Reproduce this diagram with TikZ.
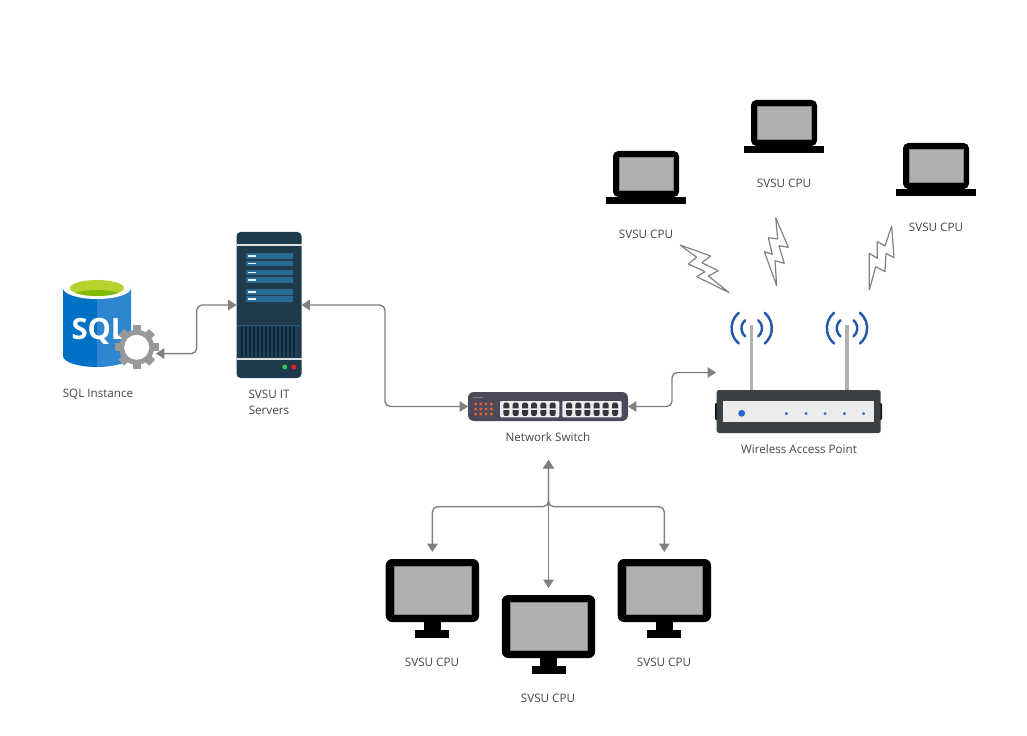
\documentclass[tikz,border=0pt]{standalone}
\usepackage{fontspec}
\setmainfont{Open Sans}
\usetikzlibrary{arrows.meta}

\def\pxu{0.03cm}
\definecolor{linkgray}{HTML}{808080}
\definecolor{captext}{HTML}{444444}
\definecolor{screengray}{HTML}{B0B0B0}
\definecolor{sqlleft}{HTML}{0072C6}
\definecolor{sqlright}{HTML}{2E86D0}
\definecolor{sqlrim}{HTML}{B5D22E}
\definecolor{sqlinner}{HTML}{7FBA00}
\definecolor{servbody}{HTML}{1F3A4B}
\definecolor{servbar}{HTML}{256B94}
\definecolor{servvent}{HTML}{0F2433}
\definecolor{switchbody}{HTML}{4A4A5A}
\definecolor{switchled}{HTML}{F0602A}
\definecolor{apbody}{HTML}{3A4044}
\definecolor{apblue}{HTML}{2468D0}
\definecolor{apwave}{HTML}{2458A8}

\tikzstyle{myarrow}=[{Triangle[length=7.2pt,width=9pt]}-{Triangle[length=7.2pt,width=9pt]}, draw=linkgray, fill=none, line width=1.2pt, rounded corners=4.5pt]
\tikzstyle{caption}=[text=captext, font=\fontsize{9.95pt}{13.6pt}\selectfont, align=center, inner sep=0pt]
\tikzstyle{iconbox}=[rectangle, inner sep=0pt, outer sep=0pt]
\tikzstyle{bolt}=[draw=linkgray, fill=white, line width=1pt, line join=bevel]
\tikzstyle{screen}=[fill=screengray, draw=linkgray, line width=0.4pt]

\tikzset{
  laptop/.pic={
    \fill[black, rounded corners=4.5pt] (-33,0) rectangle (33,46);
    \path[screen] (-26.5,6) rectangle (27,39.7);
    \fill[black] (-40,46) rectangle (40,53);
  },
  monitor/.pic={
    \fill[black, rounded corners=5.5pt] (-46.7,0) rectangle (46.7,63);
    \path[screen] (-38.4,7.7) rectangle (38.4,55);
    \fill[black] (-8.3,62) rectangle (8.3,72);
    \fill[black] (-17,71) rectangle (17,79);
  },
  antenna/.pic={
    \draw[screengray, line width=2.8pt] (0,-3) -- (0,62);
    \draw[apwave, line width=2.1pt, line cap=round]
      (-13,-15.5) arc[start angle=230, end angle=130, radius=20];
    \draw[apwave, line width=2.1pt, line cap=round]
      (13,-15.5) arc[start angle=-50, end angle=50, radius=20];
    \draw[apwave, line width=2.1pt, line cap=round]
      (-6.5,-8) arc[start angle=230, end angle=130, radius=10.5];
    \draw[apwave, line width=2.1pt, line cap=round]
      (6.5,-8) arc[start angle=-50, end angle=50, radius=10.5];
  }
}

\begin{document}
\begin{tikzpicture}[x=\pxu, y=-\pxu]
\useasboundingbox (0,0) rectangle (1027,736);

% sql instance
\fill[sqlleft] (63,288) -- (63,356) .. controls (63,362) and (78,367) .. (97,367) -- (97,288) -- cycle;
\fill[sqlright] (131,288) -- (131,356) .. controls (131,362) and (116,367) .. (97,367) -- (97,288) -- cycle;
\fill[white] (97,288) ellipse [x radius=34, y radius=11];
\begin{scope}
  \clip (97,288) ellipse [x radius=27, y radius=8];
  \fill[sqlrim] (70,278) rectangle (124,298);
  \fill[sqlinner] (97,298) ellipse [x radius=27, y radius=8];
\end{scope}
\node[iconbox, text=white, font=\fontsize{25pt}{25pt}\selectfont\bfseries] (sqltext) at (99.5,331) {SQL};
\node[circle, inner sep=0pt, minimum size=40*\pxu] (gear) at (136.7,347.3) {};
\foreach \a in {0,45,...,315}
  \fill[gray!80, rotate around={\a:(136.7,347.3)}] (132.5,325.5) rectangle (140.9,335);
\fill[gray!80] (136.7,347.3) circle (17.5);
\fill[white] (136.7,347.3) circle (12.5);

% server
\node[iconbox, fill=servbody, rounded corners=3.5pt, minimum width=65*\pxu, minimum height=146*\pxu] (server) at (269,305) {};
\fill[white!85!servbody] (236.5,244) rectangle (301.5,245.6);
\foreach \y in {253.3,260.7,269.7,277,289,296} {
  \fill[servbar] (246,\y) rectangle (292.7,\y+5.8);
  \fill[white!90!servbar] (247.5,\y+2.2) rectangle (256,\y+3.6);
}
\fill[servbar!70!servbody] (236.5,324.6) rectangle (301.5,325.6);
\fill[servvent] (241,327) rectangle (296,357);
\foreach \x in {243,247,...,295}
  \fill[servbody!75!servbar] (\x,327) rectangle (\x+1.6,357);
\fill[white!85!servbody] (236.5,358.4) rectangle (301.5,360);
\fill[green!50!teal!85!white] (284.7,367) circle (2.5);
\fill[red!70!purple!90!white] (293.7,367) circle (2.5);

% switch
\node[iconbox, fill=switchbody, rounded corners=5pt, minimum width=160*\pxu, minimum height=29*\pxu] (switch) at (548,406.5) {};
\fill[linkgray] (473,397) rectangle (483,397.8);
\foreach \x in {475.7,480.7,486,491.3}
  \foreach \y in {404,409,414}
    \fill[switchled] (\x,\y) circle (1.7);
\fill[gray!15, rounded corners=1pt] (500,401) rectangle (559.3,417.3);
\fill[gray!15, rounded corners=1pt] (562.3,401) rectangle (621.7,417.3);
\foreach \x in {506.3,515.7,525,534,543.3,552.7,569,578.3,587.3,596.7,605.7,615} {
  \fill[switchbody!70!black] (\x-1.7,402.6) -- (\x+1.7,402.6) -- (\x+3,404.6) -- (\x+3,408.4) -- (\x-3,408.4) -- (\x-3,404.6) -- cycle;
  \fill[switchbody!70!black] (\x-1.7,415.8) -- (\x+1.7,415.8) -- (\x+3,413.8) -- (\x+3,410) -- (\x-3,410) -- (\x-3,413.8) -- cycle;
}

% access point
\node[iconbox, minimum width=165*\pxu, minimum height=121*\pxu] (wap) at (798.5,372.5) {};
\pic at (751.7,328.3) {antenna};
\pic at (847,328.3) {antenna};
\fill[black!80!apbody, rounded corners=1pt] (715,403) rectangle (882,420);
\fill[apbody, rounded corners=2pt] (716.7,390) rectangle (880.7,433);
\fill[gray!15] (723,400.7) rectangle (874,422.3);
\fill[apblue] (741.7,413.3) circle (3.4);
\foreach \x in {786.3,806,825,844.3,863.7}
  \fill[apblue] (\x,413.6) circle (1.6);

% computers
\pic at (646,151) {laptop};
\pic at (784,100) {laptop};
\pic at (936,143) {laptop};
\node[iconbox, minimum width=93*\pxu, minimum height=79*\pxu] (deskleft) at (432.4,598.5) {};
\node[iconbox, minimum width=93*\pxu, minimum height=79*\pxu] (deskmid) at (548.5,634.5) {};
\node[iconbox, minimum width=93*\pxu, minimum height=79*\pxu] (deskright) at (664.3,598.5) {};
\pic at (deskleft.north) {monitor};
\pic at (deskmid.north) {monitor};
\pic at (deskright.north) {monitor};

% wireless bolts
\path[bolt] (680,245) -- (710.7,256) -- (701.7,262.7) -- (718.3,270.7) -- (708.3,276) -- (729.3,292.7) -- (696.7,276.7) -- (705,271.7) -- (688.3,264) -- (696.7,257.3) -- cycle;
\path[bolt] (775.7,217.7) -- (788.3,247.3) -- (779,245.7) -- (784.3,263.3) -- (775,260.7) -- (776.7,285.7) -- (764.3,251.7) -- (772.3,254.3) -- (768.3,237.7) -- (777.7,239) -- cycle;
\path[bolt] (891.7,226) -- (894,257.7) -- (886,253.3) -- (885,271.7) -- (875.7,266.7) -- (869.3,290) -- (869.3,253.3) -- (877.3,258.3) -- (877.3,241.7) -- (885,246) -- cycle;

% captions
\node[caption] (sqlcap) at (98,394) {SQL Instance};
\node[caption] (servercap) at (269,402) {SVSU IT\\Servers};
\node[caption] (switchcap) at (548,437) {Network Switch};
\node[caption] (wapcap) at (799,449.5) {Wireless Access Point};
\node[caption] (lapleftcap) at (646,234) {SVSU CPU};
\node[caption] (lapmidcap) at (784,183) {SVSU CPU};
\node[caption] (laprightcap) at (936,227) {SVSU CPU};
\node[caption] (deskleftcap) at (432,662) {SVSU CPU};
\node[caption] (deskmidcap) at (548,698) {SVSU CPU};
\node[caption] (deskrightcap) at (664,662) {SVSU CPU};

% links
\coordinate (hub) at (548.5,460);
\coordinate (fork) at (548.5,506.7);
\draw[myarrow] (gear.-18) -| (196.7,330) |- (server.west);
\draw[myarrow] (server.east) -| (385,350) |- (switch.west);
\draw[myarrow] (switch.east) -| (672,390) |- (wap.west);
\draw[myarrow, shorten >=6pt] (hub) -- (fork) -| (deskleft.north);
\draw[myarrow, shorten >=6pt] (hub) -- (fork) -| (deskright.north);
\draw[myarrow, shorten >=6pt] (hub) -- (deskmid.north);
\end{tikzpicture}
\end{document}
